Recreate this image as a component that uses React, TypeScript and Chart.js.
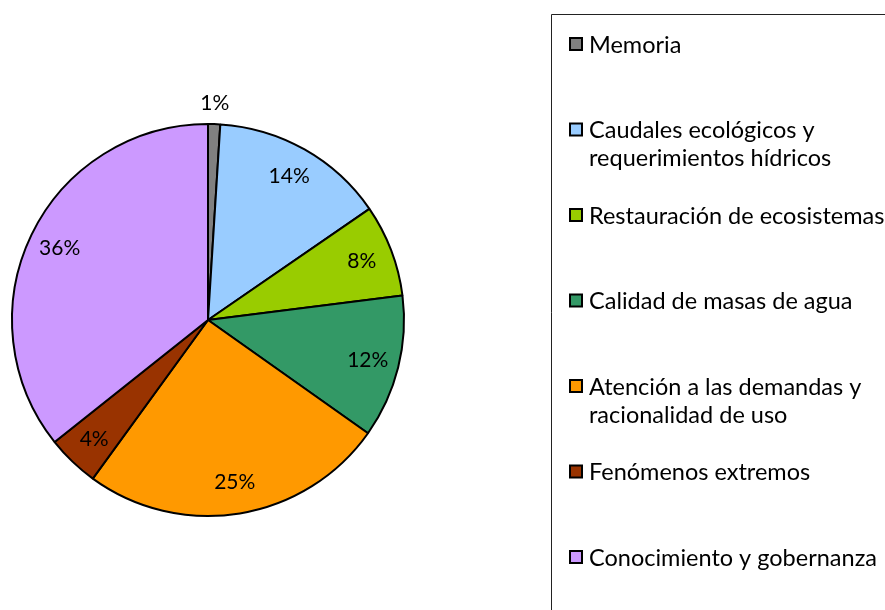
import React, { useEffect, useRef } from "react";
import { Chart, registerables } from "chart.js";

Chart.register(...registerables);

const categories: string[][] = [
  ["Memoria"],
  ["Caudales ecológicos y", "requerimientos hídricos"],
  ["Restauración de ecosistemas"],
  ["Calidad de masas de agua"],
  ["Atención a las demandas y", "racionalidad de uso"],
  ["Fenómenos extremos"],
  ["Conocimiento y gobernanza"],
];
const values: number[] = [1.0, 14.4, 7.6, 11.8, 25.2, 4.3, 35.7];
const colors: string[] = ["#808080", "#99CCFF", "#99CC00", "#339966", "#FF9900", "#993300", "#CC99FF"];

const FONT = "Lato, 'Open Sans', sans-serif";

const labelPlugin = {
  id: "sliceLabels",
  afterDatasetsDraw(chart: any) {
    const ctx = chart.ctx;
    const meta = chart.getDatasetMeta(0);
    const data = chart.data.datasets[0].data as number[];
    const total = data.reduce((a, b) => a + b, 0);
    ctx.save();
    ctx.font = `21px ${FONT}`;
    ctx.fillStyle = "#000";
    ctx.textAlign = "center";
    ctx.textBaseline = "middle";
    meta.data.forEach((arc: any, i: number) => {
      const { x, y, startAngle, endAngle, outerRadius } = arc.getProps(
        ["x", "y", "startAngle", "endAngle", "outerRadius"], true);
      const mid = (startAngle + endAngle) / 2;
      const pct = (data[i] / total) * 100;
      const r = pct < 2 ? outerRadius + 21 : outerRadius * 0.84;
      ctx.fillText(`${Math.round(pct)}%`, x + Math.cos(mid) * r, y + Math.sin(mid) * r);
    });
    ctx.restore();
  },
};

const legendPlugin = {
  id: "boxLegend",
  afterDraw(chart: any) {
    const ctx = chart.ctx;
    const labels = chart.data.labels as string[][];
    const bg = chart.data.datasets[0].backgroundColor as string[];
    ctx.save();
    ctx.strokeStyle = "#222";
    ctx.lineWidth = 1;
    ctx.beginPath();
    ctx.moveTo(551.5, 620);
    ctx.lineTo(551.5, 14.5);
    ctx.lineTo(900, 14.5);
    ctx.stroke();
    ctx.font = `23.5px ${FONT}`;
    ctx.textBaseline = "middle";
    ctx.textAlign = "left";
    labels.forEach((lines, i) => {
      const y0 = 44 + i * 85.5;
      ctx.fillStyle = bg[i];
      ctx.fillRect(570, y0 - 6, 12, 12);
      ctx.lineWidth = 2;
      ctx.strokeStyle = "#000";
      ctx.strokeRect(570, y0 - 6, 12, 12);
      ctx.fillStyle = "#000";
      lines.forEach((ln, j) => ctx.fillText(ln, 589, y0 + 1 + j * 28));
    });
    ctx.restore();
  },
};

export default function App() {
  const ref = useRef<HTMLCanvasElement>(null);
  useEffect(() => {
    document.body.style.margin = "0";
    const chart = new Chart(ref.current!, {
      type: "pie",
      data: {
        labels: categories,
        datasets: [
          {
            data: values,
            backgroundColor: colors,
            borderColor: "#000",
            borderWidth: 2,
          },
        ],
      },
      options: {
        animation: false,
        responsive: false,
        layout: { padding: { left: 11, top: 123, right: 480, bottom: 93 } },
        plugins: { legend: { display: false }, tooltip: { enabled: false } },
      },
      plugins: [labelPlugin, legendPlugin],
    });
    return () => chart.destroy();
  }, []);
  return (
    <div style={{ position: "fixed", left: 0, top: 0, width: 885, height: 610, background: "#fff" }}>
      <canvas ref={ref} width={885} height={610} />
    </div>
  );
}
